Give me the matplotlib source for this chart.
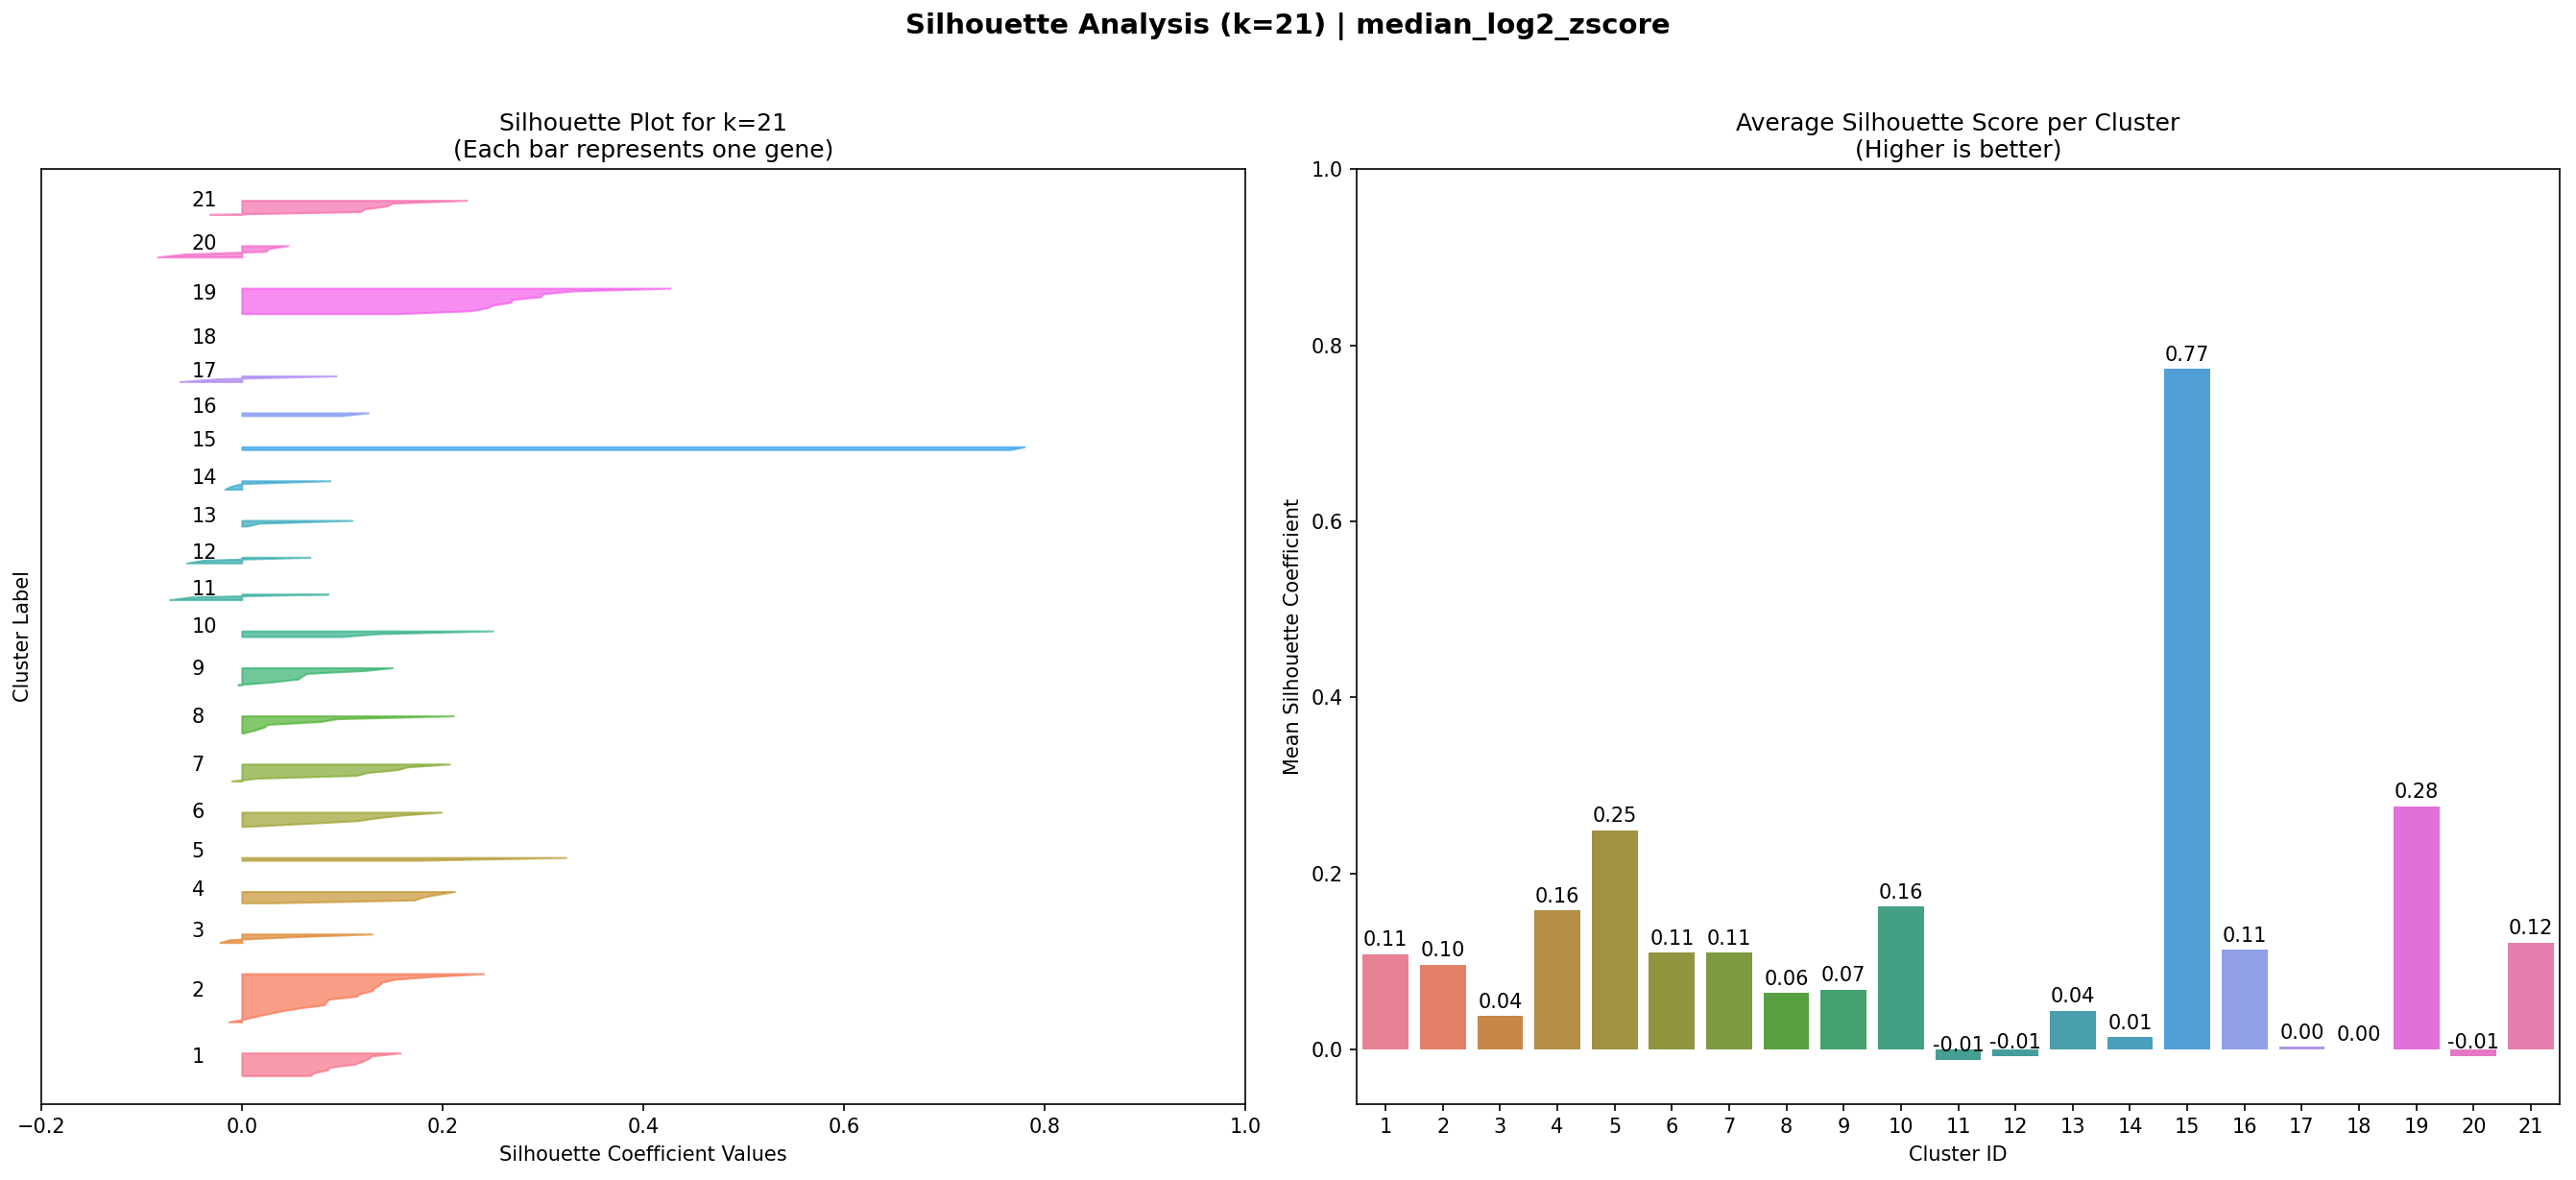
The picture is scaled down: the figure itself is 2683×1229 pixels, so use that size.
import numpy as np
import matplotlib
matplotlib.use("Agg")
import matplotlib.pyplot as plt
import seaborn as sns

# ---------------- data ----------------
k = 21
cluster_ids = list(range(1, 22))

# per-gene silhouette values for each cluster
sil_01 = [0.068, 0.072, 0.085, 0.088, 0.112, 0.120, 0.126, 0.130, 0.158]
sil_02 = [-0.013, 0.003, 0.015, 0.028, 0.042, 0.060, 0.082, 0.084, 0.087,
          0.114, 0.118, 0.130, 0.132, 0.137, 0.140, 0.152, 0.190, 0.241]
sil_03 = [-0.022, -0.012, 0.050, 0.130]
sil_04 = [0.030, 0.172, 0.180, 0.195, 0.212]
sil_05 = [0.175, 0.323]
sil_06 = [0.006, 0.062, 0.115, 0.135, 0.160, 0.199]
sil_07 = [-0.010, 0.015, 0.114, 0.125, 0.155, 0.165, 0.207]
sil_08 = [0.002, 0.013, 0.022, 0.026, 0.078, 0.095, 0.211]
sil_09 = [-0.004, 0.030, 0.056, 0.060, 0.065, 0.122, 0.150]
sil_10 = [0.100, 0.135, 0.250]
sil_11 = [-0.072, -0.050, 0.086]
sil_12 = [-0.055, -0.037, 0.068]
sil_13 = [0.005, 0.017, 0.110]
sil_14 = [-0.017, -0.011, 0.000, 0.088]
sil_15 = [0.766, 0.780]
sil_16 = [0.100, 0.126]
sil_17 = [-0.062, -0.024, 0.094]
sil_18 = [0.0]
sil_19 = [0.157, 0.228, 0.244, 0.250, 0.268, 0.270, 0.298, 0.300, 0.330, 0.427]
sil_20 = [-0.084, -0.058, 0.024, 0.027, 0.046]
sil_21 = [-0.032, 0.118, 0.123, 0.145, 0.150, 0.224]

sil_by_cluster = [sil_01, sil_02, sil_03, sil_04, sil_05, sil_06, sil_07,
                  sil_08, sil_09, sil_10, sil_11, sil_12, sil_13, sil_14,
                  sil_15, sil_16, sil_17, sil_18, sil_19, sil_20, sil_21]

# mean silhouette per cluster
cluster_means = [0.108, 0.096, 0.038, 0.158, 0.249, 0.110, 0.110, 0.064,
                 0.068, 0.162, -0.012, -0.008, 0.044, 0.014, 0.773, 0.113,
                 0.003, 0.000, 0.276, -0.008, 0.121]

left_xticks = [-0.2, 0.0, 0.2, 0.4, 0.6, 0.8, 1.0]
right_yticks = [0.0, 0.2, 0.4, 0.6, 0.8, 1.0]

# ---------------- figure ----------------
W, H, DPI = 2683, 1229, 150
fig = plt.figure(figsize=(W / DPI, H / DPI), dpi=DPI)

ax1 = fig.add_axes([42.8 / W, 1 - 1149.8 / H, 1254.2 / W, 973.6 / H])
ax2 = fig.add_axes([1413.3 / W, 1 - 1149.8 / H, 1252.5 / W, 973.6 / H])

colors = sns.color_palette("husl", k)

# left: silhouette plot
y_lower = 10
for i, vals in enumerate(sil_by_cluster):
    v = np.sort(np.asarray(vals, dtype=float))
    size = len(v)
    y_upper = y_lower + size
    ax1.fill_betweenx(np.arange(y_lower, y_upper), 0, v,
                      facecolor=colors[i], edgecolor=colors[i], alpha=0.7)
    ax1.text(-0.05, y_lower + 0.5 * size, str(cluster_ids[i]), fontsize=10)
    y_lower = y_upper + 10

total = sum(len(v) for v in sil_by_cluster)
ax1.set_ylim(0, total + (k + 1) * 10)
ax1.set_xlim(-0.2, 1.0)
ax1.set_xticks(left_xticks)
ax1.set_yticks([])
ax1.set_xlabel("Silhouette Coefficient Values", fontsize=10)
ax1.set_ylabel("Cluster Label", fontsize=10)
ax1.set_title("Silhouette Plot for k=21\n(Each bar represents one gene)", fontsize=12)

# right: mean per cluster
bar_colors = [sns.desaturate(c, 0.75) for c in colors]
xpos = np.arange(len(cluster_ids))
ax2.bar(xpos, cluster_means, width=0.8, color=bar_colors)
for x, m in zip(xpos, cluster_means):
    ax2.text(x, m + 0.005, f"{m:.2f}", ha="center", va="bottom", fontsize=10)
ax2.set_xticks(xpos)
ax2.set_xticklabels([str(c) for c in cluster_ids])
ax2.set_xlim(-0.5, len(cluster_ids) - 0.5)
ax2.set_ylim(min(0, min(cluster_means)) - 0.05, 1.0)
ax2.set_yticks(right_yticks)
ax2.set_xlabel("Cluster ID", fontsize=10)
ax2.set_ylabel("Mean Silhouette Coefficient", fontsize=10)
ax2.set_title("Average Silhouette Score per Cluster\n(Higher is better)", fontsize=12)

fig.suptitle("Silhouette Analysis (k=21) | median_log2_zscore",
             fontsize=14, fontweight="bold", y=1 - 27.4 / H, va="center")

fig.savefig("out.png", dpi=DPI)
